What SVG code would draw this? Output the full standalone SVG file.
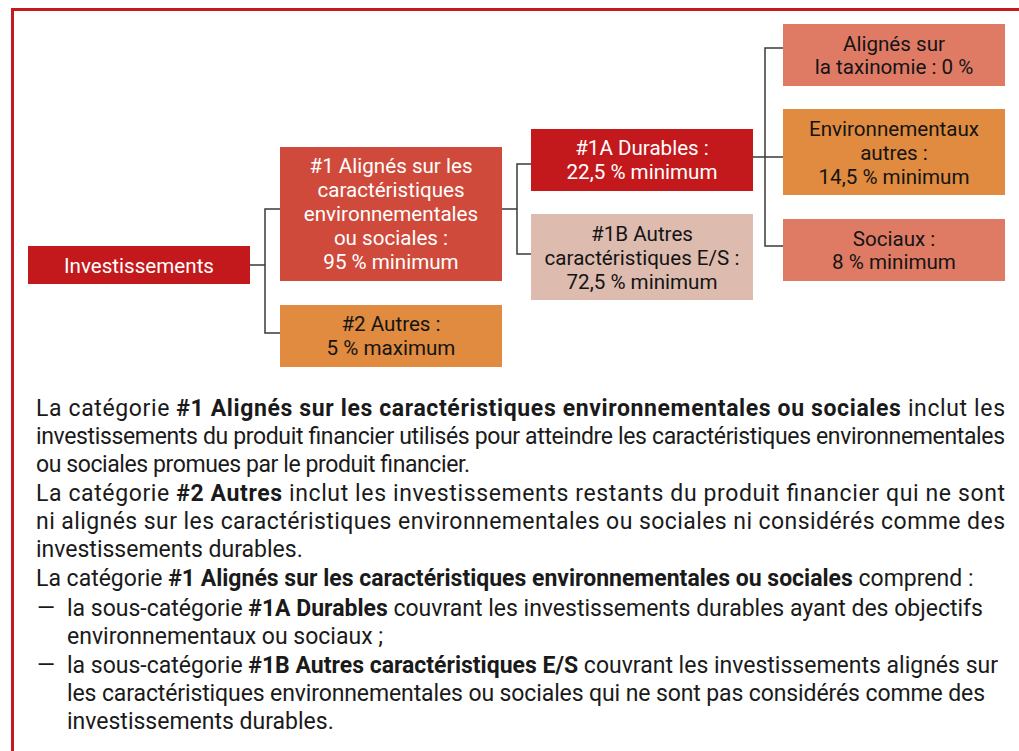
<svg xmlns="http://www.w3.org/2000/svg" width="1019" height="751" viewBox="0 0 1019 751">
<style>
.bt{font-family:Roboto,"Liberation Sans",sans-serif;font-size:20.6px;text-anchor:middle}
.w{fill:#ffffff}
.k{fill:#141414}
.body{font-family:Roboto,"Liberation Sans",sans-serif;font-size:23px;fill:#1a1a1a}
.b{font-weight:bold}
.con{fill:none;stroke:#3a3a3a;stroke-width:1.5}
</style>
<rect width="1019" height="751" fill="#ffffff"/>
<path d="M12.5 751 V9.5 H1019" fill="none" stroke="#c8191e" stroke-width="3"/>
<g id="connectors" class="con">
<path d="M250 265 H265 M280 209 H265 V333 H280"/>
<path d="M502 209 H517 M531 164 H517 V254 H531"/>
<path d="M753 157 H783 M783 48 H765 V246 H783"/>
</g>
<g id="n-invest">
<rect x="28" y="246" width="222" height="38" fill="#c4191c"/>
<text class="bt w" x="139" y="272.5">Investissements</text>
</g>
<g id="n-1">
<rect x="280" y="147" width="222" height="134" fill="#d04a3c"/>
<text class="bt w" x="391" y="173">#1 Alignés sur les</text>
<text class="bt w" x="391" y="197">caractéristiques</text>
<text class="bt w" x="391" y="221">environnementales</text>
<text class="bt w" x="391" y="245">ou sociales :</text>
<text class="bt w" x="391" y="269">95 % minimum</text>
</g>
<g id="n-2">
<rect x="280" y="305" width="222" height="62" fill="#e08b3f"/>
<text class="bt k" x="391" y="331">#2 Autres :</text>
<text class="bt k" x="391" y="355">5 % maximum</text>
</g>
<g id="n-1a">
<rect x="531" y="129" width="222" height="62" fill="#c4191c"/>
<text class="bt w" x="642" y="155">#1A Durables :</text>
<text class="bt w" x="642" y="178.5">22,5 % minimum</text>
</g>
<g id="n-1b">
<rect x="531" y="214" width="222" height="86" fill="#ddbbaf"/>
<text class="bt k" x="642" y="241">#1B Autres</text>
<text class="bt k" x="642" y="265">caractéristiques E/S :</text>
<text class="bt k" x="642" y="288.5">72,5 % minimum</text>
</g>
<g id="n-tax">
<rect x="783" y="24" width="222" height="62" fill="#df7b65"/>
<text class="bt k" x="894" y="51">Alignés sur</text>
<text class="bt k" x="894" y="74">la taxinomie : 0 %</text>
</g>
<g id="n-env">
<rect x="783" y="109" width="222" height="86" fill="#e08b3f"/>
<text class="bt k" x="894" y="136">Environnementaux</text>
<text class="bt k" x="894" y="160">autres :</text>
<text class="bt k" x="894" y="183.5">14,5 % minimum</text>
</g>
<g id="n-soc">
<rect x="783" y="219" width="222" height="62" fill="#df7b65"/>
<text class="bt k" x="894" y="246">Sociaux :</text>
<text class="bt k" x="894" y="268.5">8 % minimum</text>
</g>
<g id="legend" class="body">
<text x="36" y="416" textLength="969" lengthAdjust="spacing">La catégorie <tspan class="b">#1 Alignés sur les caractéristiques environnementales ou sociales</tspan> inclut les</text>
<text x="36" y="444" textLength="969" lengthAdjust="spacing">investissements du produit financier utilisés pour atteindre les caractéristiques environnementales</text>
<text x="36" y="472" textLength="434" lengthAdjust="spacing">ou sociales promues par le produit financier.</text>
<text x="36" y="501" textLength="969" lengthAdjust="spacing">La catégorie <tspan class="b">#2 Autres</tspan> inclut les investissements restants du produit financier qui ne sont</text>
<text x="36" y="529" textLength="969" lengthAdjust="spacing">ni alignés sur les caractéristiques environnementales ou sociales ni considérés comme des</text>
<text x="36" y="557">investissements durables.</text>
<text x="36" y="586">La catégorie <tspan class="b">#1 Alignés sur les caractéristiques environnementales ou sociales</tspan> comprend :</text>
<text x="37" y="616">—</text>
<text x="67" y="616">la sous-catégorie <tspan class="b">#1A Durables</tspan> couvrant les investissements durables ayant des objectifs</text>
<text x="67" y="644">environnementaux ou sociaux ;</text>
<text x="37" y="673">—</text>
<text x="67" y="673">la sous-catégorie <tspan class="b">#1B Autres caractéristiques E/S</tspan> couvrant les investissements alignés sur</text>
<text x="67" y="701" textLength="918" lengthAdjust="spacing">les caractéristiques environnementales ou sociales qui ne sont pas considérés comme des</text>
<text x="67" y="729">investissements durables.</text>
</g>
</svg>
